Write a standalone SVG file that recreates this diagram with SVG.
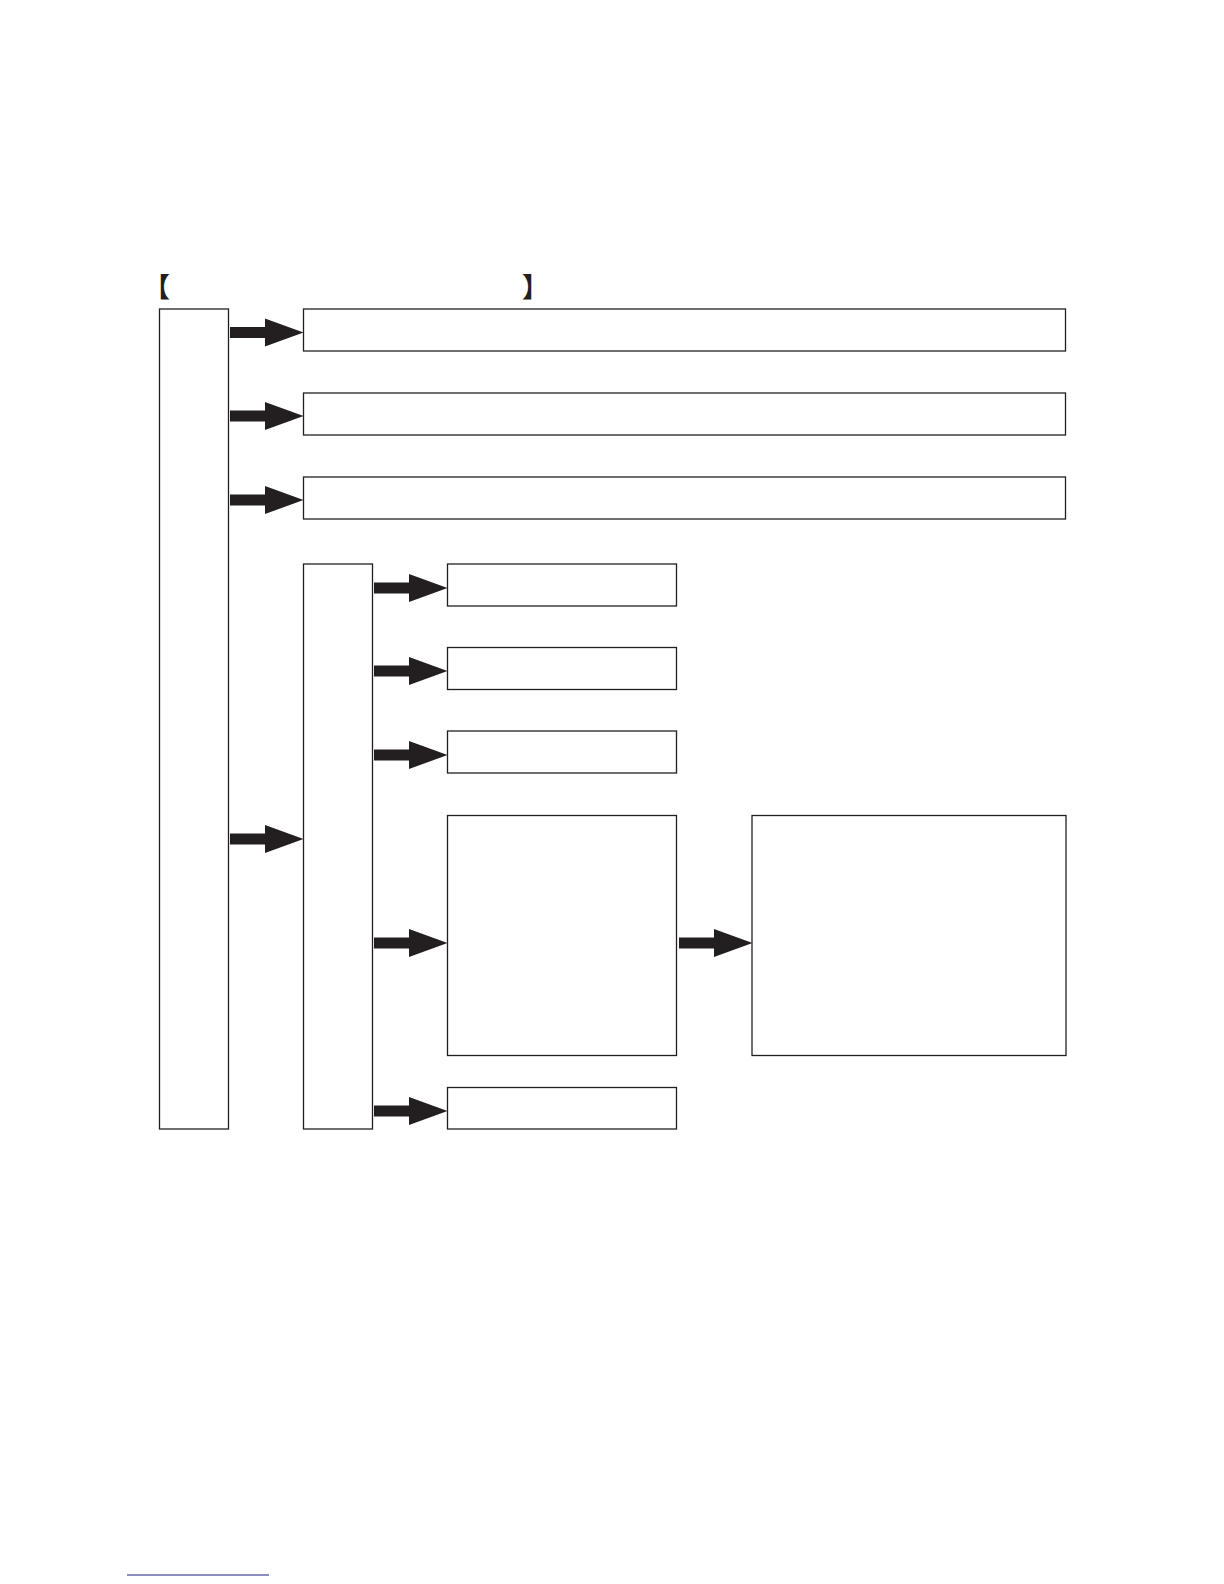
<svg xmlns="http://www.w3.org/2000/svg" width="1224" height="1584" viewBox="0 0 1224 1584">
<style>
.box{fill:#fff;stroke:#231f20;stroke-width:1.3}
.arr{fill:#231f20}
.br{font-family:"Noto Sans CJK SC","Noto Sans CJK JP",sans-serif;font-size:27px;font-weight:bold;fill:#231f20}
</style>
<defs>
<path id="arrow" d="M0,-5.5 H35 V-14 L73.5,0 L35,14 V5.5 H0 Z"/>
</defs>
<rect width="1224" height="1584" fill="#fff"/>
<g id="title">
<text class="br" x="143" y="297">【</text>
<text class="br" x="522" y="297">】</text>
</g>
<g id="n-left"><rect class="box" x="159.5" y="309" width="69" height="820"/></g>
<g id="n-top1"><rect class="box" x="303.5" y="309" width="762" height="42"/></g>
<g id="n-top2"><rect class="box" x="303.5" y="393" width="762" height="42"/></g>
<g id="n-top3"><rect class="box" x="303.5" y="477" width="762" height="42"/></g>
<g id="n-mid"><rect class="box" x="303.5" y="564" width="69" height="565"/></g>
<g id="n-s1"><rect class="box" x="447.5" y="564" width="229" height="42"/></g>
<g id="n-s2"><rect class="box" x="447.5" y="647.5" width="229" height="42"/></g>
<g id="n-s3"><rect class="box" x="447.5" y="731" width="229" height="42"/></g>
<g id="n-s4"><rect class="box" x="447.5" y="815.5" width="229" height="240"/></g>
<g id="n-s5"><rect class="box" x="447.5" y="1087.5" width="229" height="41.5"/></g>
<g id="n-right"><rect class="box" x="752" y="815.5" width="314" height="240"/></g>
<g id="connectors" class="arr">
<use href="#arrow" x="230" y="332.5"/>
<use href="#arrow" x="230" y="416"/>
<use href="#arrow" x="230" y="500"/>
<use href="#arrow" x="230" y="839"/>
<use href="#arrow" x="374" y="588"/>
<use href="#arrow" x="374" y="671"/>
<use href="#arrow" x="374" y="755"/>
<use href="#arrow" x="374" y="943"/>
<use href="#arrow" x="374" y="1111"/>
<use href="#arrow" x="679" y="943"/>
</g>
<line x1="127" y1="1575" x2="269" y2="1575" stroke="#1a1a8c" stroke-width="1.2"/>
</svg>
